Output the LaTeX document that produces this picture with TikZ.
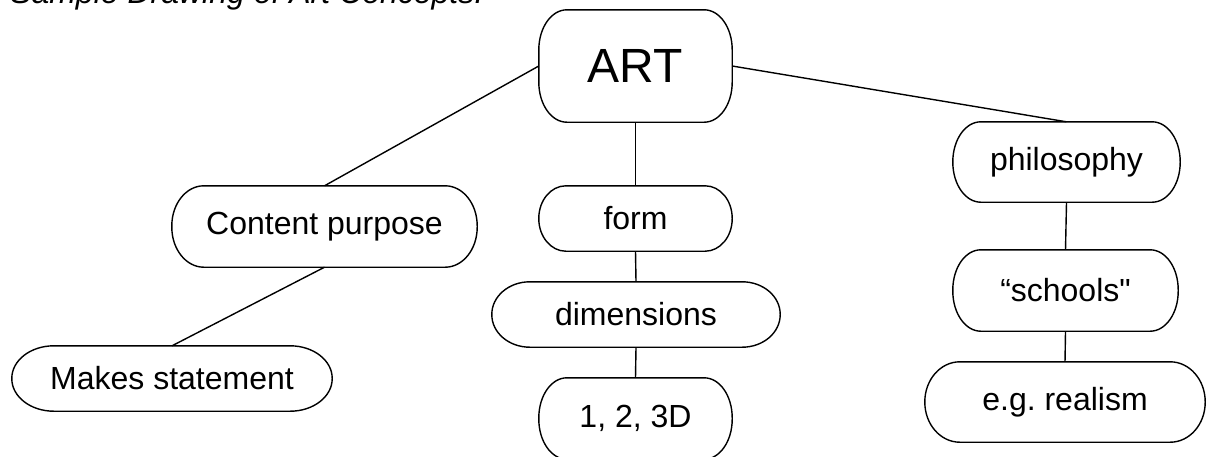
\documentclass[tikz,border=0pt]{standalone}
\usepackage{fontspec}
\setmainfont{Liberation Sans}
\newfontfamily\rawfont{Liberation Sans}
\newcommand\eboxoutline[3]{%
  \draw[outline] ([xshift=-#2]#1.north east)
    arc[start angle=90,end angle=0,x radius=#2,y radius=#3]
    -- ([yshift=#3]#1.south east)
    arc[start angle=0,end angle=-90,x radius=#2,y radius=#3]
    -- ([xshift=#2]#1.south west)
    arc[start angle=-90,end angle=-180,x radius=#2,y radius=#3]
    -- ([yshift=-#3]#1.north west)
    arc[start angle=180,end angle=90,x radius=#2,y radius=#3]
    -- cycle;}
\begin{document}
\begin{tikzpicture}[x=1pt,y=-1pt,
  box/.style={inner sep=0pt,align=center,font=\fontsize{32}{38}\selectfont},
  outline/.style={line width=1.4pt},
  link/.style={line width=1.4pt}]
\useasboundingbox (0,0) rectangle (1206,456);
\node[anchor=base west,inner sep=0pt,font=\fontsize{32}{38}\selectfont\itshape] (title) at (10,3.5) {Sample Drawing of Art Concepts:};
\node[box,minimum width=193pt,minimum height=112pt,font=\fontsize{48}{56}\selectfont] (art) at (635.5,66) {ART};
\node[box,minimum width=305pt,minimum height=81pt] (content) at (324.5,226.5) {Content purpose};
\node[box,minimum width=320pt,minimum height=65pt] (makes) at (172,378.5) {Makes statement};
\node[box,minimum width=193pt,minimum height=65pt] (form) at (635.5,218.5) {form};
\node[box,minimum width=288pt,minimum height=65pt] (dims) at (636,314.5) {dimensions};
\node[box,minimum width=193pt,minimum height=81pt] (three) at (635.5,418.5) {1, 2, 3D};
\node[box,minimum width=227pt,minimum height=80pt] (philo) at (1066.5,162) {philosophy};
\node[box,minimum width=225pt,minimum height=81pt] (schools) at (1065.5,290.5) {“schools{\rawfont"}};
\node[box,minimum width=280pt,minimum height=80pt] (realism) at (1065,402) {e.g.\ realism};
\eboxoutline{art}{28pt}{40pt}
\eboxoutline{content}{32pt}{40pt}
\eboxoutline{makes}{42pt}{32.5pt}
\eboxoutline{form}{27pt}{32.5pt}
\eboxoutline{dims}{38pt}{32.5pt}
\eboxoutline{three}{28pt}{40pt}
\eboxoutline{philo}{28pt}{40pt}
\eboxoutline{schools}{28pt}{40pt}
\eboxoutline{realism}{35pt}{40pt}
\draw[link] (art.west) -- (content.north);
\draw[link] (content.south) -- (makes.north);
\draw[link] (art.east) -- (philo.north);
\draw[link] (art.south) -- (form.north);
\draw[link] (form.south) -- (dims.north);
\draw[link] (dims.south) -- (three.north);
\draw[link] (philo.south) -- (schools.north);
\draw[link] (schools.south) -- (realism.north);
\end{tikzpicture}
\end{document}
